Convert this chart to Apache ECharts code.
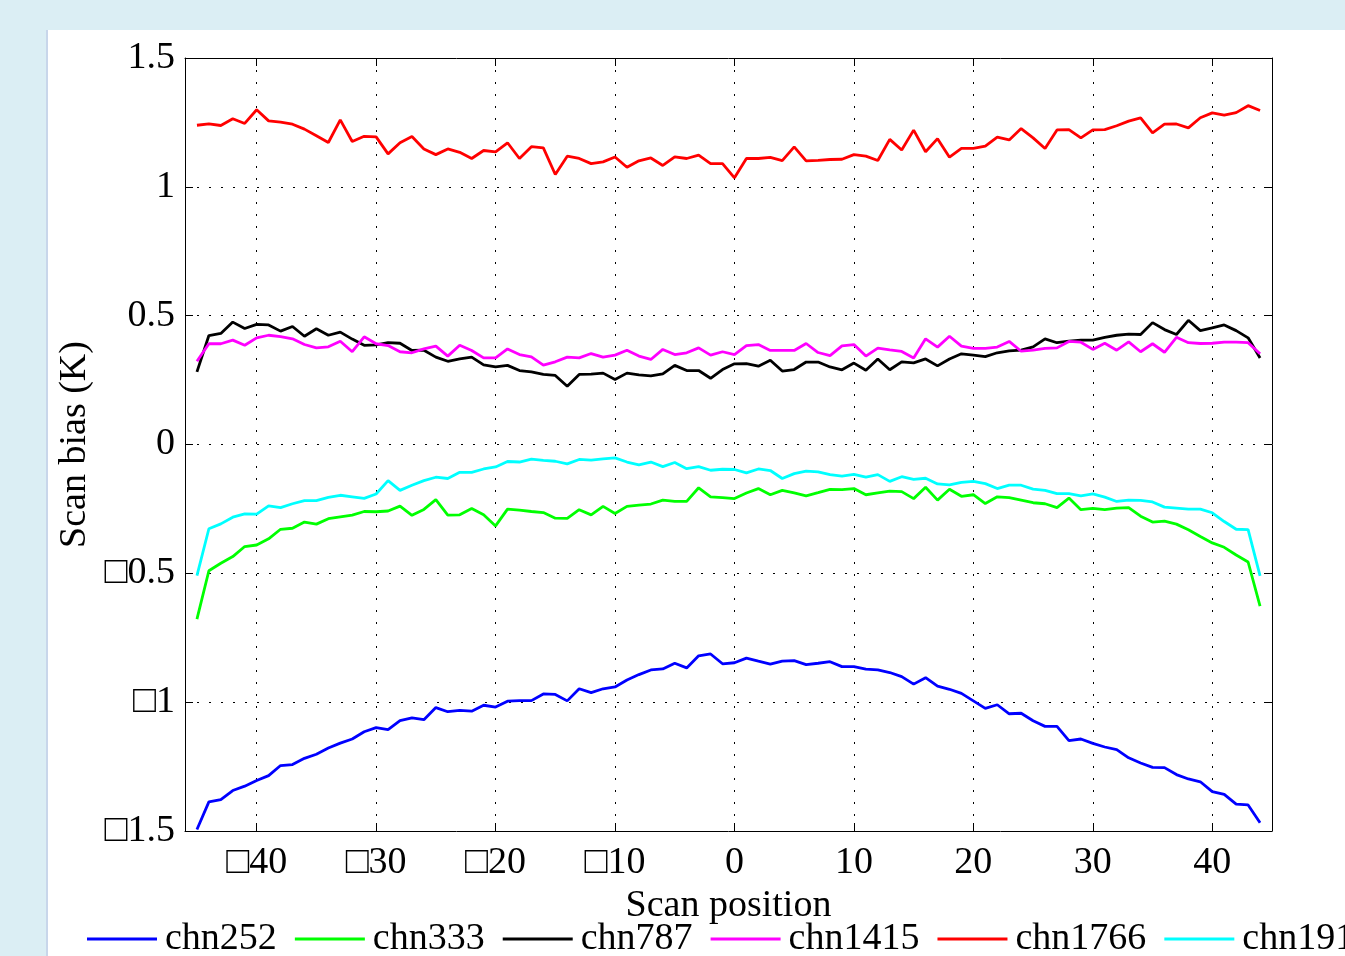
<!DOCTYPE html>
<html>
<head>
<meta charset="utf-8">
<script src="https://cdn.jsdelivr.net/npm/echarts@6/dist/echarts.min.js"></script>
<style>
html, body { margin: 0; padding: 0; width: 1345px; height: 956px; overflow: hidden; background: #dbeef4; }
.panel { position: absolute; left: 46px; top: 30px; right: 0; bottom: 0; background: #fff; border-left: 2px solid #c8d6ea; }
#chart { position: absolute; left: 0; top: 0; width: 1345px; height: 956px; }
</style>
</head>
<body>
<div class="panel"></div>
<div id="chart"></div>
<script>
// scan positions -45 .. 44
const positions = [-45,-44,-43,-42,-41,-40,-39,-38,-37,-36,-35,-34,-33,-32,-31,-30,-29,-28,-27,-26,-25,-24,-23,-22,-21,-20,-19,-18,-17,-16,-15,-14,-13,-12,-11,-10,-9,-8,-7,-6,-5,-4,-3,-2,-1,
  0,1,2,3,4,5,6,7,8,9,10,11,12,13,14,15,16,17,18,19,20,21,22,23,24,25,26,27,28,29,30,31,32,33,34,35,36,37,38,39,40,41,42,43,44]

const seriesNames = ['chn252', 'chn333', 'chn787', 'chn1415', 'chn1766', 'chn1917']
const seriesColors = ['#0000ff', '#00ff00', '#000000', '#ff00ff', '#ff0000', '#00ffff']

const chn252 = [-1.494,-1.387,-1.378,-1.343,-1.326,-1.304,-1.285,-1.246,-1.242,-1.218,-1.202,-1.178,-1.159,-1.143,-1.115,-1.099,-1.107,-1.072,-1.061,-1.068,-1.021,-1.037,-1.032,-1.035,-1.012,-1.019,-0.996,-0.994,-0.994,-0.968,-0.970,-0.995,-0.948,-0.963,-0.948,-0.941,-0.914,-0.893,-0.875,-0.871,-0.849,-0.867,-0.820,-0.813,-0.851,
  -0.847,-0.829,-0.841,-0.852,-0.841,-0.839,-0.854,-0.849,-0.843,-0.862,-0.862,-0.872,-0.875,-0.885,-0.901,-0.930,-0.905,-0.938,-0.950,-0.966,-0.995,-1.024,-1.010,-1.045,-1.043,-1.072,-1.094,-1.094,-1.149,-1.143,-1.160,-1.174,-1.184,-1.216,-1.236,-1.253,-1.254,-1.281,-1.298,-1.309,-1.347,-1.358,-1.396,-1.399,-1.468]

const chn333 = [-0.678,-0.490,-0.461,-0.435,-0.396,-0.390,-0.366,-0.329,-0.325,-0.301,-0.309,-0.288,-0.281,-0.274,-0.260,-0.261,-0.258,-0.239,-0.275,-0.252,-0.214,-0.274,-0.273,-0.248,-0.273,-0.316,-0.251,-0.255,-0.260,-0.264,-0.286,-0.287,-0.253,-0.273,-0.240,-0.268,-0.240,-0.235,-0.231,-0.216,-0.221,-0.221,-0.168,-0.203,-0.206,
  -0.210,-0.188,-0.171,-0.195,-0.178,-0.188,-0.199,-0.187,-0.174,-0.175,-0.171,-0.195,-0.188,-0.181,-0.183,-0.210,-0.166,-0.216,-0.174,-0.201,-0.195,-0.229,-0.203,-0.206,-0.216,-0.226,-0.230,-0.245,-0.208,-0.253,-0.248,-0.253,-0.247,-0.245,-0.278,-0.301,-0.297,-0.309,-0.331,-0.357,-0.382,-0.399,-0.429,-0.456,-0.627]

const chn787 = [0.282,0.423,0.431,0.475,0.450,0.466,0.464,0.440,0.458,0.420,0.449,0.424,0.436,0.409,0.385,0.387,0.395,0.393,0.365,0.366,0.339,0.323,0.332,0.339,0.309,0.301,0.307,0.287,0.282,0.272,0.268,0.226,0.272,0.273,0.277,0.252,0.277,0.270,0.266,0.274,0.307,0.287,0.287,0.257,0.291,
  0.313,0.314,0.304,0.327,0.285,0.291,0.320,0.320,0.301,0.290,0.316,0.288,0.332,0.290,0.321,0.317,0.332,0.305,0.332,0.352,0.347,0.341,0.356,0.363,0.366,0.379,0.410,0.395,0.401,0.405,0.405,0.416,0.424,0.428,0.427,0.473,0.446,0.427,0.482,0.442,0.453,0.464,0.442,0.414,0.336]

const chn1415 = [0.323,0.391,0.391,0.405,0.385,0.414,0.424,0.419,0.410,0.388,0.375,0.379,0.401,0.360,0.418,0.391,0.384,0.360,0.356,0.371,0.382,0.343,0.385,0.365,0.336,0.336,0.371,0.349,0.340,0.308,0.321,0.339,0.336,0.353,0.339,0.347,0.366,0.343,0.330,0.369,0.349,0.356,0.375,0.347,0.360,
  0.349,0.384,0.388,0.365,0.365,0.365,0.392,0.357,0.345,0.383,0.388,0.343,0.374,0.367,0.361,0.336,0.410,0.378,0.420,0.382,0.373,0.373,0.378,0.400,0.362,0.366,0.373,0.375,0.400,0.397,0.369,0.393,0.366,0.398,0.360,0.391,0.358,0.416,0.395,0.392,0.393,0.397,0.397,0.395,0.352]

const chn1766 = [1.239,1.244,1.238,1.264,1.246,1.299,1.256,1.251,1.243,1.224,1.198,1.172,1.260,1.176,1.196,1.194,1.128,1.171,1.195,1.147,1.125,1.147,1.134,1.110,1.141,1.136,1.171,1.110,1.156,1.151,1.048,1.119,1.110,1.090,1.097,1.116,1.076,1.101,1.112,1.083,1.116,1.110,1.123,1.090,1.090,
  1.035,1.110,1.110,1.114,1.102,1.155,1.101,1.103,1.106,1.107,1.125,1.119,1.102,1.184,1.143,1.220,1.136,1.187,1.115,1.149,1.149,1.158,1.193,1.182,1.226,1.190,1.149,1.221,1.222,1.190,1.221,1.222,1.237,1.255,1.268,1.209,1.243,1.244,1.229,1.268,1.287,1.278,1.288,1.315,1.296]

const chn1917 = [-0.509,-0.327,-0.308,-0.282,-0.269,-0.270,-0.238,-0.245,-0.230,-0.218,-0.218,-0.205,-0.197,-0.203,-0.209,-0.192,-0.140,-0.178,-0.158,-0.140,-0.127,-0.132,-0.108,-0.108,-0.095,-0.087,-0.066,-0.068,-0.057,-0.062,-0.065,-0.075,-0.058,-0.061,-0.056,-0.052,-0.068,-0.079,-0.068,-0.086,-0.070,-0.094,-0.086,-0.100,-0.096,
  -0.097,-0.110,-0.095,-0.101,-0.132,-0.113,-0.103,-0.106,-0.117,-0.123,-0.116,-0.127,-0.117,-0.143,-0.125,-0.135,-0.131,-0.153,-0.157,-0.147,-0.143,-0.152,-0.171,-0.158,-0.158,-0.173,-0.178,-0.191,-0.191,-0.199,-0.192,-0.204,-0.221,-0.216,-0.217,-0.223,-0.243,-0.247,-0.251,-0.251,-0.265,-0.299,-0.329,-0.330,-0.510]

const xTicks = [-40, -30, -20, -10, 0, 10, 20, 30, 40]
const xTickLabels = ['\u25a140', '\u25a130', '\u25a120', '\u25a110', '0', '10', '20', '30', '40']
const yTicks = [-1.5, -1, -0.5, 0, 0.5, 1, 1.5]
const yTickLabels = ['\u25a11.5', '\u25a11', '\u25a10.5', '0', '0.5', '1', '1.5']

const allValues = [chn252, chn333, chn787, chn1415, chn1766, chn1917]

const font = '"Liberation Serif", "Times New Roman", serif'
const dotted = { color: '#000', width: 1, type: [2, 10] }

const chart = echarts.init(document.getElementById('chart'))

const baseX = {
  type: 'value', min: -46, max: 45,
  axisLine: { show: true, onZero: false, lineStyle: { color: '#000', width: 1 } },
  axisTick: { show: true, inside: true, length: 8, customValues: xTicks, lineStyle: { color: '#000' } }
}
const baseY = {
  type: 'value', min: -1.5, max: 1.5, interval: 0.5,
  axisLine: { show: true, onZero: false, lineStyle: { color: '#000', width: 1 } },
  axisTick: { show: true, inside: true, length: 8, lineStyle: { color: '#000' } }
}

const option = {
  animation: false,
  grid: { left: 185, top: 58, width: 1087, height: 773 },
  legend: {
    left: 87, top: 920, width: 1600, padding: 0,
    icon: 'rect', itemWidth: 70, itemHeight: 3, itemGap: 18,
    textStyle: { fontFamily: font, fontSize: 38, color: '#000', padding: [0, 0, 0, 3] },
    data: seriesNames
  },
  xAxis: [
    Object.assign({}, baseX, {
      position: 'bottom',
      axisLabel: {
        customValues: xTicks, color: '#000', fontFamily: font, fontSize: 38, margin: 13,
        formatter: v => xTickLabels[xTicks.indexOf(v)]
      },
      splitLine: { show: true, lineStyle: dotted },
      name: 'Scan position', nameLocation: 'middle', nameGap: 45,
      nameTextStyle: { fontFamily: font, fontSize: 38, color: '#000' }
    }),
    Object.assign({}, baseX, {
      position: 'top',
      axisLabel: { show: false },
      splitLine: { show: false }
    })
  ],
  yAxis: [
    Object.assign({}, baseY, {
      position: 'left',
      axisLabel: {
        color: '#000', fontFamily: font, fontSize: 38, margin: 10,
        formatter: v => {
          const i = yTicks.findIndex(t => Math.abs(t - v) < 1e-6)
          return i >= 0 ? yTickLabels[i] : ''
        }
      },
      splitLine: { show: true, lineStyle: dotted },
      name: 'Scan bias (K)', nameLocation: 'middle', nameGap: 89, nameRotate: 90,
      nameTextStyle: { fontFamily: font, fontSize: 38, color: '#000' }
    }),
    Object.assign({}, baseY, {
      position: 'right',
      axisLabel: { show: false },
      splitLine: { show: false }
    })
  ],
  series: seriesNames.map((name, k) => ({
    name,
    type: 'line',
    xAxisIndex: 0,
    yAxisIndex: 0,
    symbol: 'none',
    data: positions.map((p, i) => [p, allValues[k][i]]),
    lineStyle: { color: seriesColors[k], width: 2.8 },
    itemStyle: { color: seriesColors[k] }
  }))
}

chart.setOption(option)
</script>
</body>
</html>
